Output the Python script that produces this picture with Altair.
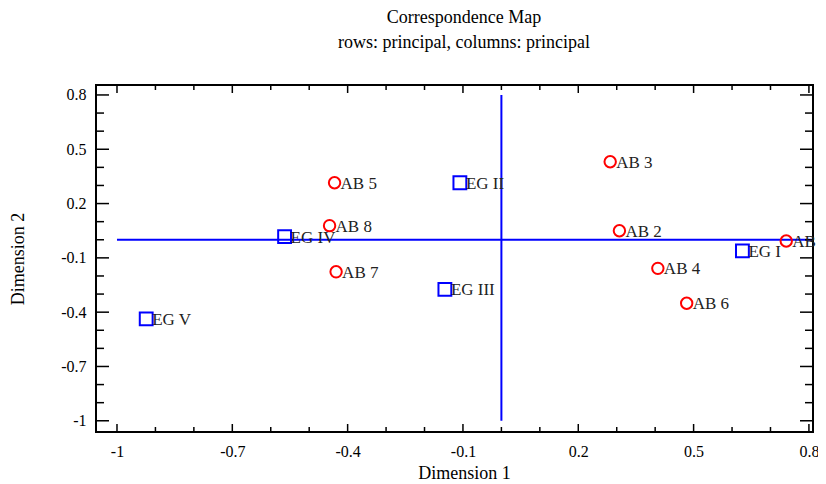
import altair as alt
import pandas as pd

# ---- data ----
ab_labels = ["AB 1", "AB 2", "AB 3", "AB 4", "AB 5", "AB 6", "AB 7", "AB 8"]
ab_dim1 = [0.741, 0.307, 0.283, 0.407, -0.434, 0.482, -0.430, -0.447]
ab_dim2 = [-0.007, 0.050, 0.431, -0.158, 0.315, -0.351, -0.177, 0.078]

eg_labels = ["EG I", "EG II", "EG III", "EG IV", "EG V"]
eg_dim1 = [0.627, -0.108, -0.147, -0.564, -0.924]
eg_dim2 = [-0.061, 0.315, -0.274, 0.017, -0.437]

major_ticks = [-1.0, -0.7, -0.4, -0.1, 0.2, 0.5, 0.8]
minor_ticks = [-0.9, -0.8, -0.6, -0.5, -0.3, -0.2, 0.0, 0.1, 0.3, 0.4, 0.6, 0.7]

x_domain = [-1.0546, 0.8106]
y_domain = [-1.062, 0.855]

W, H = 717, 347
FONT = "Liberation Serif"

ab = pd.DataFrame({"d1": ab_dim1, "d2": ab_dim2, "label": ab_labels})
eg = pd.DataFrame({"d1": eg_dim1, "d2": eg_dim2, "label": eg_labels})
hline = pd.DataFrame({"d1": [-1.0], "d1e": [x_domain[1]], "d2": [0.0]})
vline = pd.DataFrame({"d1": [0.0], "d2": [-1.0], "d2e": [0.8]})
maj = pd.DataFrame({"v": major_ticks})
mnr = pd.DataFrame({"v": minor_ticks})

xs = alt.Scale(domain=x_domain, nice=False, zero=False)
ys = alt.Scale(domain=y_domain, nice=False, zero=False)

fix = "replace(format(datum.value, '.1~f'), '\u2212', '-')"
xaxis = alt.Axis(values=major_ticks, title="Dimension 1", labelExpr=fix,
                 labelPadding=11, titleX=(464 - 96), titleY=41, titleBaseline="middle")
yaxis = alt.Axis(values=major_ticks, title="Dimension 2", labelExpr=fix,
                 labelPadding=10, titleX=-78, titleY=H / 2, titleBaseline="middle",
                 titleAngle=-90, titleAlign="center")


def X(f):
    return alt.X(f, type="quantitative", scale=xs, axis=xaxis)


def Y(f):
    return alt.Y(f, type="quantitative", scale=ys, axis=yaxis)


blue = "#0000FF"
red = "#FF0000"

h = alt.Chart(hline).mark_rule(color=blue, strokeWidth=2).encode(
    x=X("d1"), x2="d1e", y=Y("d2"))
v = alt.Chart(vline).mark_rule(color=blue, strokeWidth=2).encode(
    x=X("d1"), y=Y("d2"), y2="d2e")

tick_layers = []
for df, lx, ly in [(maj, 8, 13), (mnr, 5, 8)]:
    tick_layers.append(alt.Chart(df).mark_rule(color="black", strokeWidth=1.5).encode(
        x=X("v"), y=alt.value(0), y2=alt.value(lx)))
    tick_layers.append(alt.Chart(df).mark_rule(color="black", strokeWidth=1.5).encode(
        x=X("v"), y=alt.value(H), y2=alt.value(H - lx)))
    tick_layers.append(alt.Chart(df).mark_rule(color="black", strokeWidth=1.5).encode(
        y=Y("v"), x=alt.value(0), x2=alt.value(ly)))
    tick_layers.append(alt.Chart(df).mark_rule(color="black", strokeWidth=1.5).encode(
        y=Y("v"), x=alt.value(W), x2=alt.value(W - ly)))

ab_pts = alt.Chart(ab).mark_point(shape="circle", filled=False, color=red,
                                  strokeWidth=2, size=130, opacity=1).encode(
    x=X("d1"), y=Y("d2"))
eg_pts = alt.Chart(eg).mark_point(shape="square", filled=False, color=blue,
                                  strokeWidth=2, size=165, opacity=1).encode(
    x=X("d1"), y=Y("d2"))

ab_txt = alt.Chart(ab).mark_text(align="left", baseline="middle", dx=6, dy=1,
                                 font=FONT, fontSize=17, color="#222222").encode(
    x=X("d1"), y=Y("d2"), text="label")
eg_txt = alt.Chart(eg).mark_text(align="left", baseline="middle", dx=6, dy=1,
                                 font=FONT, fontSize=17, color="#222222").encode(
    x=X("d1"), y=Y("d2"), text="label")

chart = alt.layer(h, v, *tick_layers, ab_pts, eg_pts, ab_txt, eg_txt).properties(
    width=W, height=H,
    autosize=alt.AutoSizeParams(type="none"),
    padding={"left": 88, "top": 77, "right": 5, "bottom": 50},
    title=alt.TitleParams(
        text="Correspondence Map",
        subtitle="rows: principal, columns: principal",
        font=FONT, subtitleFont=FONT, fontSize=18, subtitleFontSize=18,
        fontWeight="normal", color="black", subtitleColor="black",
        anchor="middle", offset=32, subtitlePadding=7, dx=(464 - 96) - W / 2,
    ),
).configure_view(stroke="black", strokeWidth=2).configure_axis(
    domain=False, ticks=False, tickSize=0, grid=False,
    labelFont=FONT, labelFontSize=16, labelColor="black",
    titleFont=FONT, titleFontSize=18, titleFontWeight="normal", titleColor="black",
)

chart.save("out.html", embed_options={"renderer": "svg", "actions": False})
